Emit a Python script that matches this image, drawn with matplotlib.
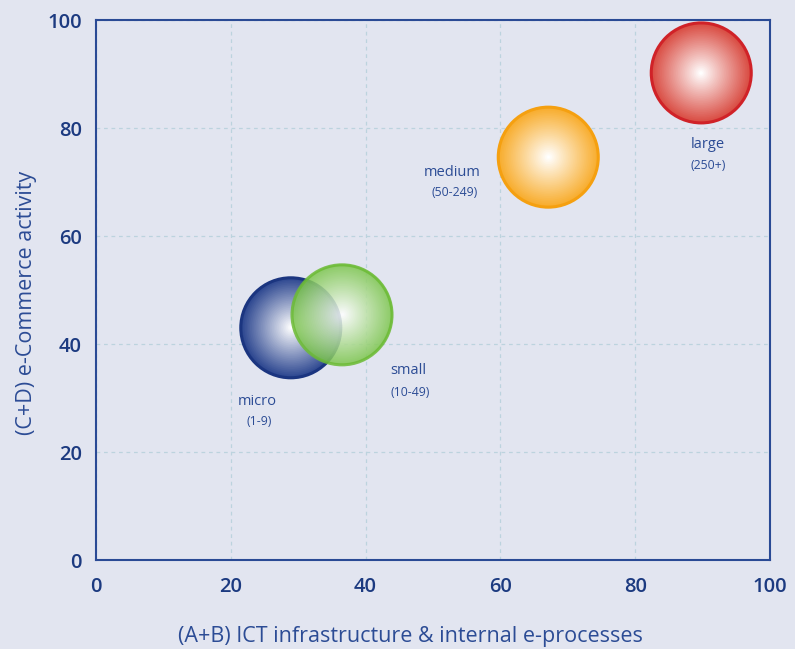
import numpy as np
import matplotlib
matplotlib.use("Agg")
import matplotlib.pyplot as plt
from matplotlib.colors import to_rgb

# bubble data
sizes = ["micro", "small", "medium", "large"]
ranges = ["(1-9)", "(10-49)", "(50-249)", "(250+)"]
infra = [28.9, 36.5, 67.1, 89.8]
ecom = [43.0, 45.4, 74.6, 90.2]
label_x = [23.9, 46.4, 52.9, 90.7]
label_y = [29.3, 35.0, 71.7, 77.0]
sub_x = [24.2, 46.6, 53.2, 90.8]
sub_y = [25.6, 31.1, 68.0, 73.1]
ticks = [0, 20, 40, 60, 80, 100]

fill_cols = ["#25408c", "#78c447", "#f8aa26", "#d8463c"]
edge_cols = ["#1b3580", "#6cbb35", "#f5a010", "#d02228"]
alphas = [1.0, 0.85, 1.0, 1.0]

bg = "#e2e5f0"
tick_col = "#1c3a80"
lab_col = "#2c4c95"

plt.rcParams['font.family'] = ['Open Sans', 'DejaVu Sans']

fig = plt.figure(figsize=(7.95, 6.49), dpi=100, facecolor=bg)
ax = fig.add_axes([96 / 795, 1 - 560 / 649, 674 / 795, 540 / 649])
ax.set_facecolor(bg)
ax.set_xlim(0, 100)
ax.set_ylim(0, 100)

ax.set_xticks(ticks)
ax.set_yticks(ticks)
ax.tick_params(length=0, labelsize=14.5, labelcolor=tick_col)
ax.tick_params(axis='x', pad=12)
ax.tick_params(axis='y', pad=10)
for t in ax.get_xticklabels() + ax.get_yticklabels():
    t.set_fontweight('semibold')

for s in ax.spines.values():
    s.set_color("#2a4a95")
    s.set_linewidth(1.5)

ax.grid(True, color="#bcd3de", linestyle=(0, (3, 3)), linewidth=0.9)
ax.set_axisbelow(True)

ax.set_xlabel("(A+B) ICT infrastructure & internal e-processes",
              fontsize=15.5, color=lab_col)
ax.set_ylabel("(C+D) e-Commerce activity",
              fontsize=15.5, color=lab_col)
ax.xaxis.set_label_coords(0.466, -0.122)
ax.yaxis.set_label_coords(-0.088, 0.476)

R = 50  # bubble radius in pixels
n = 300
u = np.linspace(-1, 1, n)
uu, vv = np.meshgrid(u, u)
d = np.sqrt(uu ** 2 + vv ** 2)
dq = np.floor(d * 28) / 28  # concentric banding
t = np.clip(dq, 0, 1) ** 0.95
edge_aa = np.clip((1 - d) * n / 2, 0, 1)

for i in range(len(sizes)):
    cx, cy = ax.transData.transform((infra[i], ecom[i]))
    inv = ax.transData.inverted()
    x0, y0 = inv.transform((cx - R, cy - R))
    x1, y1 = inv.transform((cx + R, cy + R))
    c = np.array(to_rgb(fill_cols[i]))
    img = np.zeros((n, n, 4))
    for k in range(3):
        img[..., k] = 1 - t * (1 - c[k])
    img[..., 3] = edge_aa * alphas[i]
    ax.imshow(img, extent=[x0, x1, y0, y1], origin='lower',
              interpolation='bilinear', zorder=3 + i, aspect='auto')
    diam_pt = 2 * R * 72 / 100
    ax.scatter([infra[i]], [ecom[i]], s=diam_pt ** 2, facecolors='none',
               edgecolors=edge_cols[i], linewidths=2.2, zorder=3 + i,
               alpha=alphas[i])

ax.set_xlim(0, 100)
ax.set_ylim(0, 100)

for i in range(len(sizes)):
    ax.text(label_x[i], label_y[i], sizes[i], fontsize=10.5, color=lab_col,
            ha='center', va='center', zorder=10)
    ax.text(sub_x[i], sub_y[i], ranges[i], fontsize=8.8, color=lab_col,
            ha='center', va='center', zorder=10)

fig.savefig("out.png", dpi=100, facecolor=bg)
